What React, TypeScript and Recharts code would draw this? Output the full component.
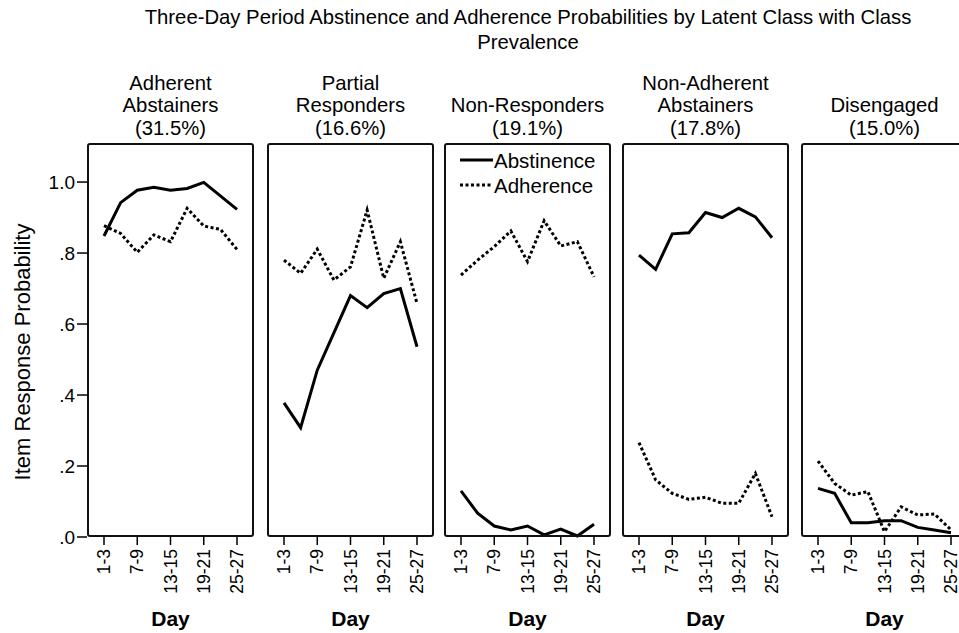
import React from 'react';
import { LineChart, Line, XAxis, YAxis, Legend } from 'recharts';

const periods = ['1-3', '4-6', '7-9', '10-12', '13-15', '16-18', '19-21', '22-24', '25-27'];
const classNames = [['Adherent', 'Abstainers'], ['Partial', 'Responders'], ['Non-Responders'], ['Non-Adherent', 'Abstainers'], ['Disengaged']];
const prevalence = ['31.5%', '16.6%', '19.1%', '17.8%', '15.0%'];
const yTicks = [0, 0.2, 0.4, 0.6, 0.8, 1.0];

const abstinenceAdherentAbstainers = [0.848, 0.942, 0.977, 0.985, 0.977, 0.982, 0.999, 0.961, 0.923];
const adherenceAdherentAbstainers = [0.877, 0.855, 0.802, 0.851, 0.832, 0.926, 0.876, 0.867, 0.81];
const abstinencePartialResponders = [0.378, 0.308, 0.47, 0.575, 0.68, 0.646, 0.686, 0.7, 0.536];
const adherencePartialResponders = [0.78, 0.743, 0.811, 0.724, 0.761, 0.921, 0.729, 0.832, 0.658];
const abstinenceNonResponders = [0.13, 0.067, 0.031, 0.02, 0.031, 0.006, 0.022, 0.003, 0.036];
const adherenceNonResponders = [0.738, 0.78, 0.818, 0.862, 0.776, 0.891, 0.82, 0.832, 0.733];
const abstinenceNonAdherentAbstainers = [0.794, 0.754, 0.854, 0.857, 0.914, 0.9, 0.926, 0.902, 0.843];
const adherenceNonAdherentAbstainers = [0.266, 0.161, 0.123, 0.106, 0.112, 0.095, 0.095, 0.179, 0.057];
const abstinenceDisengaged = [0.137, 0.123, 0.04, 0.04, 0.046, 0.046, 0.027, 0.02, 0.012];
const adherenceDisengaged = [0.214, 0.151, 0.118, 0.128, 0.015, 0.085, 0.062, 0.065, 0.02];

const abstinence = [abstinenceAdherentAbstainers, abstinencePartialResponders, abstinenceNonResponders, abstinenceNonAdherentAbstainers, abstinenceDisengaged];
const adherence = [adherenceAdherentAbstainers, adherencePartialResponders, adherenceNonResponders, adherenceNonAdherentAbstainers, adherenceDisengaged];

const FONT = "'Liberation Sans', Arial, sans-serif";
const panelLeft = [87, 267, 444, 622, 801];
const PANEL_W = 167;
const PLOT_TOP = 143;
const PLOT_H = 394;
const X_AXIS_H = 95;
const Y_AXIS_W = 80;
const DOTTED = '3 2.5';

function RotTick(props: any) {
  const { x, y, payload } = props;
  return (
    <text x={x} y={y + 2} transform={`rotate(-90 ${x} ${y + 2})`} textAnchor="end" dominantBaseline="central"
      fontSize={17.5} fontFamily={FONT} fill="#000">{payload.value}</text>
  );
}

function LegendBox() {
  return (
    <svg width={160} height={56} style={{ display: 'block' }}>
      <line x1={2} x2={35} y1={14} y2={14} stroke="#000" strokeWidth={3} />
      <text x={36} y={14} dominantBaseline="central" fontSize={20.5} fontFamily={FONT} fill="#000">Abstinence</text>
      <line x1={2} x2={35} y1={39} y2={39} stroke="#000" strokeWidth={3} strokeDasharray={DOTTED} />
      <text x={36} y={39} dominantBaseline="central" fontSize={20.5} fontFamily={FONT} fill="#000">Adherence</text>
    </svg>
  );
}

function Panel({ i }: { i: number }) {
  const rows = periods.map((p, k) => ({ period: p, abstinence: abstinence[i][k], adherence: adherence[i][k] }));
  const showY = i === 0;
  const yW = showY ? Y_AXIS_W : 0;
  return (
    <div style={{ position: 'absolute', left: panelLeft[i] - yW, top: PLOT_TOP }}>
      <LineChart width={yW + PANEL_W} height={PLOT_H + X_AXIS_H} data={rows} margin={{ top: 0, right: 0, bottom: 0, left: 0 }}>
        <XAxis dataKey="period" interval={1} padding={{ left: 17, right: 17 }} height={X_AXIS_H}
          axisLine={false} tickSize={8} tickLine={{ stroke: '#000', strokeWidth: 1.5 }} tick={<RotTick />}
          label={{ value: 'Day', position: 'insideBottom', offset: 6, fill: '#000', fontSize: 21, fontWeight: 'bold', fontFamily: FONT }} />
        <YAxis domain={[0, 1.11]} ticks={yTicks} hide={!showY} width={yW} tickSize={10}
          axisLine={false} tickLine={{ stroke: '#000', strokeWidth: 1.5 }}
          tick={{ fill: '#000', fontSize: 19, fontFamily: FONT }}
          tickFormatter={(v: number) => (v === 1 ? '1.0' : v.toFixed(1).replace(/^0/, ''))} />
        {i === 2 && (
          <Legend layout="horizontal" verticalAlign="middle" align="center"
            wrapperStyle={{ top: 3, left: 14, width: 160, height: 56 }} content={() => <LegendBox />} />
        )}
        <Line dataKey="adherence" stroke="#000" strokeWidth={3} strokeDasharray={DOTTED} dot={false} isAnimationActive={false} />
        <Line dataKey="abstinence" stroke="#000" strokeWidth={3} dot={false} isAnimationActive={false} />
      </LineChart>
      <div style={{ position: 'absolute', left: yW, top: 0, width: PANEL_W, height: PLOT_H, boxSizing: 'border-box', border: '2px solid #111', borderRadius: 3, pointerEvents: 'none' }} />
    </div>
  );
}

export default function App() {
  return (
    <div style={{ position: 'absolute', left: 0, top: 0, width: 959, height: 633, overflow: 'hidden', background: '#fff', fontFamily: FONT, color: '#000' }}>
      <div style={{ position: 'absolute', left: 0, top: 5, width: 1056, textAlign: 'center', fontSize: 20.3, lineHeight: '25px' }}>
        <div>Three-Day Period Abstinence and Adherence Probabilities by Latent Class with Class</div>
        <div>Prevalence</div>
      </div>
      {classNames.map((lines, i) => (
        <div key={i} style={{ position: 'absolute', left: panelLeft[i] - 20, width: PANEL_W + 40, bottom: 633 - 139, textAlign: 'center', fontSize: 20.3, lineHeight: '22.5px' }}>
          {lines.map(l => <div key={l}>{l}</div>)}
          <div>({prevalence[i]})</div>
        </div>
      ))}
      <div style={{ position: 'absolute', left: 23, top: 352, transform: 'translate(-50%, -50%) rotate(-90deg)', whiteSpace: 'nowrap', fontSize: 22 }}>
        Item Response Probability
      </div>
      {classNames.map((_, i) => <Panel key={i} i={i} />)}
    </div>
  );
}
